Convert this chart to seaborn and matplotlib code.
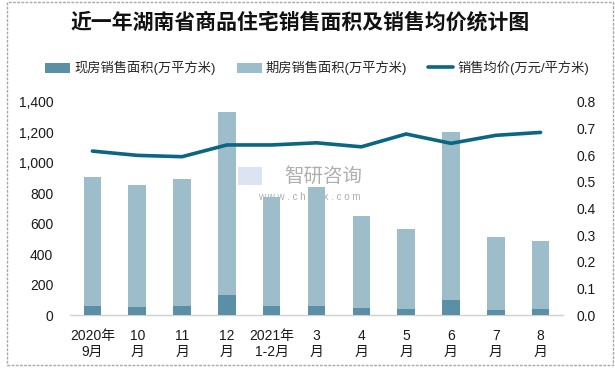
import numpy as np
import pandas as pd
import matplotlib
matplotlib.use("Agg")
import matplotlib.pyplot as plt
import seaborn as sns
from matplotlib.patches import Rectangle, Patch
from matplotlib.lines import Line2D
from matplotlib.ticker import FuncFormatter, MultipleLocator

# ---- data ----
categories = ["2020年\n9月", "10\n月", "11\n月", "12\n月", "2021年\n1-2月", "3\n月",
              "4\n月", "5\n月", "6\n月", "7\n月", "8\n月"]
total_area = [904, 854, 893, 1332, 775, 841, 651, 566, 1201, 513, 487]
spot_area = [61, 55, 61, 133, 61, 61, 48, 41, 100, 35, 41]
futures_area = [t - s for t, s in zip(total_area, spot_area)]
avg_price = [0.615, 0.599, 0.594, 0.638, 0.638, 0.646, 0.631, 0.679, 0.644, 0.674, 0.685]

series_names = ["现房销售面积(万平方米)", "期房销售面积(万平方米)", "销售均价(万元/平方米)"]
title = "近一年湖南省商品住宅销售面积及销售均价统计图"

c_spot = "#5b8fa6"
c_fut = "#9ebdca"
c_line = "#0b6584"

sns.set_theme(style="white")
plt.rcParams["font.family"] = ["Liberation Sans", "Noto Sans CJK SC", "DejaVu Sans"]

df = pd.DataFrame({"cat": categories, "total": total_area, "spot": spot_area,
                   "price": avg_price})

fig = plt.figure(figsize=(6.15, 3.69), dpi=100)
W, H = 615, 369
ax = fig.add_axes([70 / W, 1 - 315.3 / H, (563 - 70) / W, (315.3 - 101.7) / H])

sns.barplot(data=df, x="cat", y="total", color=c_fut, width=0.39, ax=ax,
            saturation=1, edgecolor="none", zorder=2)
sns.barplot(data=df, x="cat", y="spot", color=c_spot, width=0.39, ax=ax,
            saturation=1, edgecolor="none", zorder=3)
ax.set_ylim(0, 1400)
ax.set_xlim(-0.5, len(categories) - 0.5)
ax.yaxis.set_major_locator(MultipleLocator(200))
ax.yaxis.set_major_formatter(FuncFormatter(lambda v, p: f"{int(v):,}"))
ax.set_xlabel("")
ax.set_ylabel("")
for s in ["top", "right", "left"]:
    ax.spines[s].set_visible(False)
ax.spines["bottom"].set_color("#d0d0d0")
ax.spines["bottom"].set_linewidth(1)
ax.tick_params(axis="y", length=0, labelsize=10, pad=12, colors="#1a1a1a")
ax.tick_params(axis="x", length=0, labelsize=10, pad=10, colors="#1a1a1a")
ax.grid(False)

ax2 = ax.twinx()
sns.lineplot(x=np.arange(len(categories)), y=avg_price, ax=ax2, color=c_line,
             linewidth=2.6, zorder=4)
ax2.set_ylim(0, 0.8)
ax2.yaxis.set_major_locator(MultipleLocator(0.1))
ax2.yaxis.set_major_formatter(FuncFormatter(lambda v, p: f"{v:.1f}"))
for s in ["top", "right", "left", "bottom"]:
    ax2.spines[s].set_visible(False)
ax2.tick_params(axis="y", length=0, labelsize=10, pad=10, colors="#1a1a1a")
ax2.set_ylabel("")
ax2.grid(False)

# watermark
ax.text(323 / W, 1 - 176 / H, "智研咨询", transform=fig.transFigure, ha="center",
        va="center", fontsize=14, color="#9a9a9a", alpha=0.8, zorder=1,
        family=["Noto Sans CJK SC"])
ax.text(309 / W, 1 - 197 / H, "w w w . c h y x x . c o m", transform=fig.transFigure,
        ha="center", va="center", fontsize=7, color="#9a9a9a", alpha=0.8, zorder=1)
ax.add_patch(Rectangle((238 / W, 1 - 185 / H), 24 / W, 18 / H, transform=fig.transFigure,
                       facecolor="#b9cbe3", edgecolor="none", alpha=0.5, zorder=1))

# title
fig.text(300 / W, 1 - 22 / H, title, ha="center", va="center", fontsize=15,
         fontweight="bold", family=["Noto Sans CJK SC"], color="#111111")

# legend
handles = [Patch(facecolor=c_spot, edgecolor="none"),
           Patch(facecolor=c_fut, edgecolor="none"),
           Line2D([0], [0], color=c_line, linewidth=2.6)]
fig.legend(handles, series_names, loc="center", bbox_to_anchor=(317 / W, 1 - 68 / H),
           ncol=3, frameon=False, fontsize=9.5, handlelength=1.9, handleheight=0.8,
           handletextpad=0.3, columnspacing=1.6, borderaxespad=0)

# border
fig.add_artist(Rectangle((7 / W, 1 - 365 / H), (613 - 7) / W, (365 - 2) / H,
                         transform=fig.transFigure, fill=False, edgecolor="#a8a8a8",
                         linewidth=1, linestyle=(0, (2, 1))))

fig.savefig("out.png", dpi=100)
